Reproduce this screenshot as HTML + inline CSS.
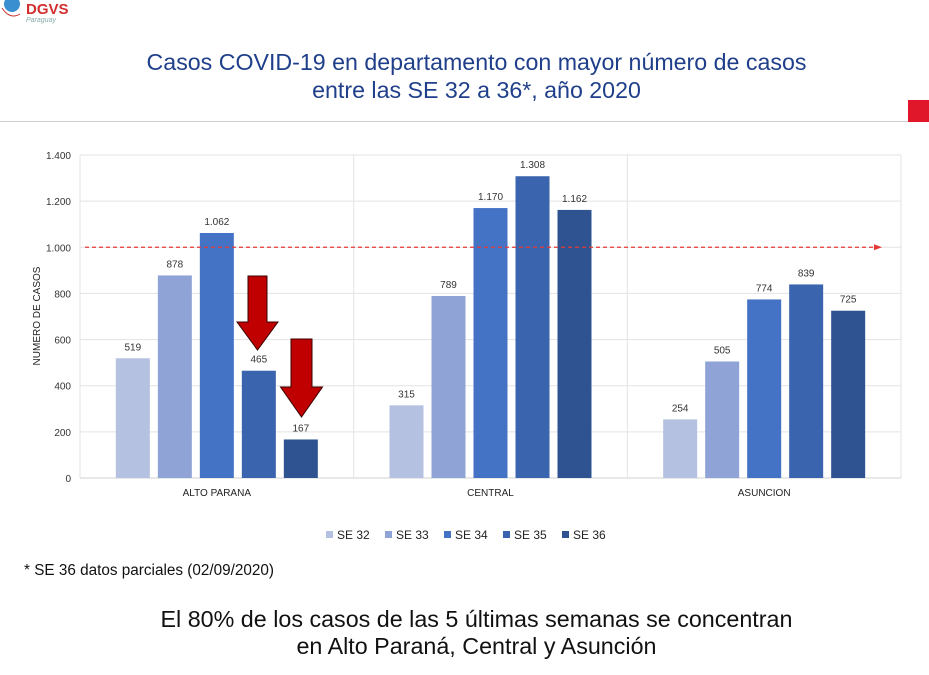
<!DOCTYPE html>
<html><head><meta charset="utf-8"><style>
body{margin:0;width:929px;height:675px;background:#fff;overflow:hidden;position:relative;font-family:"Liberation Sans",sans-serif}
.t{position:absolute;text-align:center;width:929px;left:0;padding-left:24px;box-sizing:border-box}
</style></head><body>
<div style="position:absolute;left:0;top:0;width:80px;height:26px">
<svg width="80" height="26"><circle cx="12" cy="4" r="8" fill="#3a8fd0"/><path d="M2 8 Q10 20 20 14" stroke="#c33" fill="none"/>
<text x="26" y="14" font-size="15" font-weight="bold" fill="#d32f2f" font-family="Liberation Sans">DGVS</text>
<text x="26" y="22" font-size="7" font-style="italic" fill="#8aa" font-family="Liberation Sans">Paraguay</text></svg></div>
<div class="t" style="top:48px;font-size:23.2px;color:#1f3f8a;line-height:28px">Casos COVID-19 en departamento con mayor número de casos<br>entre las SE 32 a 36*, año 2020</div>
<div style="position:absolute;left:0;top:121px;width:929px;height:1px;background:#ccc"></div>
<div style="position:absolute;left:908px;top:100px;width:21px;height:22px;background:#e0162b"></div>
<svg id="c" width="929" height="560" style="position:absolute;left:0;top:0"></svg>
<div style="position:absolute;left:24px;top:562px;font-size:15.3px;color:#111">* SE 36 datos parciales (02/09/2020)</div>
<div class="t" style="top:606px;font-size:23.3px;color:#111;line-height:27px">El 80% de los casos de las 5 últimas semanas se concentran<br>en Alto Paraná, Central y Asunción</div>
<script>
const categories=["ALTO PARANA","CENTRAL","ASUNCION"];
const seriesNames=["SE 32","SE 33","SE 34","SE 35","SE 36"];
const se32=[519,315,254];
const se33=[878,789,505];
const se34=[1062,1170,774];
const se35=[465,1308,839];
const se36=[167,1162,725];
const yTicks=[0,200,400,600,800,1000,1200,1400];
const yTickLabels=["0","200","400","600","800","1.000","1.200","1.400"];
const threshold=1000;
const series=[se32,se33,se34,se35,se36];
const colors=["#b4c1e1","#8fa3d6","#4472c4","#3b64ae","#2f5391"];
const svg=document.getElementById('c');const NS="http://www.w3.org/2000/svg";
const x0=80,x1=901,yb=478,yt=155,ymax=1400;
const y=v=>yb-(v/ymax)*(yb-yt);
const gw=(x1-x0)/categories.length;
const fmt=v=>v>=1000?Math.floor(v/1000)+"."+String(v%1000).padStart(3,"0"):String(v);
function el(t,a,p){const e=document.createElementNS(NS,t);for(const k in a)e.setAttribute(k,a[k]);(p||svg).appendChild(e);return e;}
yTicks.forEach((v,i)=>{
 const g=el('line',{x1:x0,x2:x1,y1:y(v),y2:y(v),stroke:i?'#e3e3e3':'#d0d0d0'});
 
 
 const t=el('text',{x:71,y:y(v)+4,'text-anchor':'end','font-size':10,fill:'#333'});t.textContent=yTickLabels[i];
 
 
});
for(let i=0;i<=categories.length;i++){const l=el('line',{x1:x0+i*gw,x2:x0+i*gw,y1:yt,y2:yb,stroke:'#e3e3e3'});
 
 }
const yt2=el('text',{transform:'translate(40,316) rotate(-90)','text-anchor':'middle','font-size':10,fill:'#222'});yt2.textContent="NUMERO DE CASOS";


const bw=34,step=42;
categories.forEach((c,ci)=>{
 const cx=x0+gw*ci+gw/2;
 series.forEach((s,si)=>{
  const r=el('rect',{x:cx+(si-2)*step-bw/2,y:y(s[ci]),width:bw,height:yb-y(s[ci]),fill:colors[si]});
  
  
  const t=el('text',{x:cx+(si-2)*step,y:y(s[ci])-8,'text-anchor':'middle','font-size':10,fill:'#333'});t.textContent=fmt(s[ci]);
  
  
 });
 const t=el('text',{x:cx,y:496,'text-anchor':'middle','font-size':10,fill:'#222'});t.textContent=c;
 
 
});
const th=el('line',{x1:85,x2:874,y1:y(threshold),y2:y(threshold),stroke:'#e53935','stroke-width':1.3,'stroke-dasharray':'4,3'});


const ah=el('path',{d:`M874 ${y(threshold)-3} L882 ${y(threshold)} L874 ${y(threshold)+3}Z`,fill:'#e53935'});


function arrow(sx,top,w,hy,hw,bot,nm){const cx=sx+w/2;const a=el('path',{d:`M${sx} ${top}H${sx+w}V${hy}H${cx+hw/2}L${cx} ${bot}L${cx-hw/2} ${hy}H${sx}Z`,fill:'#c00000',stroke:'#3a0000','stroke-width':1});
 
 }
arrow(248,276,19,322,41,350,'decline-arrow-se35');
arrow(291,339,21,387,42,417,'decline-arrow-se36');
let lx=326;
seriesNames.forEach((n,i)=>{
 const r=el('rect',{x:lx,y:531,width:7,height:7,fill:colors[i]});
 
 
 const t=el('text',{x:lx+11,y:539,'font-size':12,fill:'#222'});t.textContent=n;
 
 
 lx+=59;
});
</script></body></html>
